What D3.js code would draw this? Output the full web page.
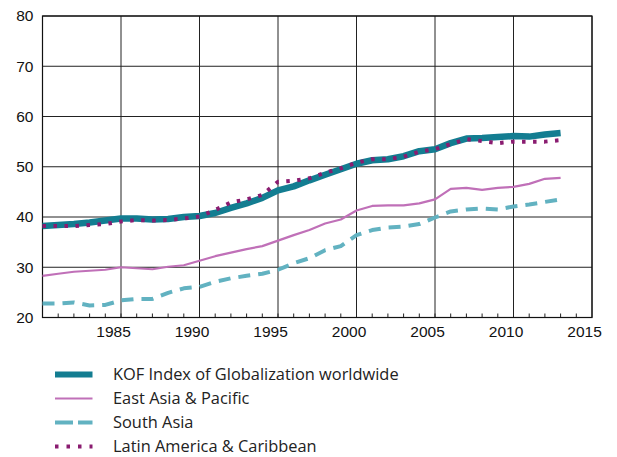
<!DOCTYPE html>
<html>
<head>
<meta charset="utf-8">
<script src="https://cdn.jsdelivr.net/npm/d3@7"></script>
<style>
  body { margin: 0; background: #fff; }
  svg { display: block; }
</style>
</head>
<body>
<svg id="main-svg" width="617" height="457"></svg>
<script>
// yearly values, 1980 - 2013
var years = d3.range(1980, 2014);

var kofWorld = [38.2, 38.4, 38.6, 38.9, 39.3, 39.7, 39.7, 39.5, 39.6, 40.0,
                40.2, 40.8, 41.8, 42.7, 43.8, 45.3, 46.1, 47.3, 48.4, 49.5,
                50.6, 51.3, 51.5, 52.1, 53.1, 53.5, 54.7, 55.6, 55.7, 55.9,
                56.1, 56.0, 56.4, 56.7];
var eastAsia = [28.3, 28.7, 29.1, 29.3, 29.5, 30.0, 29.8, 29.6, 30.1, 30.4,
                31.3, 32.2, 32.9, 33.6, 34.2, 35.3, 36.4, 37.4, 38.7, 39.5,
                41.3, 42.2, 42.3, 42.3, 42.7, 43.5, 45.6, 45.8, 45.4, 45.8,
                46.0, 46.6, 47.6, 47.8];
var southAsia = [22.8, 22.8, 23.0, 22.4, 22.5, 23.4, 23.7, 23.7, 24.9, 25.8,
                 26.1, 27.1, 27.8, 28.3, 28.7, 29.5, 30.8, 31.8, 33.4, 34.2,
                 36.4, 37.4, 37.9, 38.1, 38.6, 39.9, 41.1, 41.5, 41.7, 41.5,
                 42.1, 42.5, 43.0, 43.5];
var latinAm = [38.2, 38.2, 38.2, 38.4, 38.6, 39.1, 39.4, 39.3, 39.4, 39.7,
               40.1, 41.4, 42.9, 43.5, 44.4, 47.0, 47.2, 47.7, 48.8, 49.7,
               50.8, 51.5, 51.5, 52.0, 53.0, 53.5, 54.5, 55.5, 55.1, 54.7,
               55.0, 55.0, 55.0, 55.3];

var seriesNames = ["KOF Index of Globalization worldwide", "East Asia & Pacific", "South Asia", "Latin America & Caribbean"];
var xTicks = [1985, 1990, 1995, 2000, 2005, 2010, 2015];
var yTicks = [20, 30, 40, 50, 60, 70, 80];

var styles = [
  {values: kofWorld, color: "#137d91", width: 6.5, dash: null, legDash: null},
  {values: eastAsia, color: "#c070b8", width: 2.2, dash: null, legDash: null},
  {values: southAsia, color: "#62b2c1", width: 4, dash: "12,8", legDash: "18,5"},
  {values: latinAm, color: "#8a1c70", width: 4, dash: "3.5,7.5", legDash: "3.5,8"}
];

var svg = d3.select("#main-svg");
var plot = {left: 42.5, right: 592, top: 16, bottom: 317.5};

var x = d3.scaleLinear().domain([1980, 2015]).range([plot.left, plot.right]);
var y = d3.scaleLinear().domain([20, 80]).range([plot.bottom, plot.top]);

var grid = svg.append("g").attr("class", "grid");
grid.selectAll("line.h").data(yTicks).enter().append("line")
    .attr("x1", plot.left).attr("x2", plot.right)
    .attr("y1", function(d){ return y(d); }).attr("y2", function(d){ return y(d); })
    .style("stroke", "#222").style("stroke-width", 1);
grid.selectAll("line.v").data(xTicks).enter().append("line")
    .attr("y1", plot.top).attr("y2", plot.bottom)
    .attr("x1", function(d){ return x(d); }).attr("x2", function(d){ return x(d); })
    .style("stroke", "#222").style("stroke-width", 1);

// yearly minor ticks on the bottom axis
grid.selectAll("line.m").data(d3.range(1981, 2015)).enter().append("line")
    .attr("y1", plot.bottom - 4).attr("y2", plot.bottom)
    .attr("x1", function(d){ return x(d); }).attr("x2", function(d){ return x(d); })
    .style("stroke", "#222").style("stroke-width", 1);

svg.append("rect").attr("x", plot.left).attr("y", plot.top)
   .attr("width", plot.right - plot.left).attr("height", plot.bottom - plot.top)
   .style("fill", "none").style("stroke", "#111").style("stroke-width", 1.2);

// axes labels
var yAxis = d3.axisLeft(y).tickValues(yTicks).tickSize(0).tickPadding(9);
var gy = svg.append("g").attr("transform", "translate(" + plot.left + ",0)").call(yAxis);
var xAxis = d3.axisBottom(x).tickValues(xTicks).tickSize(0).tickPadding(8).tickFormat(d3.format("d"));
var gx = svg.append("g").attr("transform", "translate(0," + plot.bottom + ")").call(xAxis);
[gx, gy].forEach(function(g){
  g.select(".domain").remove();
  g.selectAll("text").style("font-family", "'Liberation Sans', Arial, sans-serif")
   .style("font-size", "15.5px").style("fill", "#111");
});
// year labels sit a little left of their gridline in the original
gx.selectAll("text").attr("dx", -8);

var line = d3.line()
    .x(function(d, i){ return x(years[i]); })
    .y(function(d){ return y(d); });

// pink and dashed first, then the thick one, dotted on top
var order = [1, 2, 0, 3];
order.forEach(function(k){
  var s = styles[k];
  svg.append("path").datum(s.values)
     .attr("d", line)
     .style("fill", "none")
     .style("stroke", s.color)
     .style("stroke-width", s.width)
     .style("stroke-dasharray", s.dash)
     .style("stroke-linejoin", "round");
});

// legend
var legend = svg.append("g").attr("class", "legend");
var legRows = legend.selectAll("g").data(styles).enter().append("g")
    .attr("transform", function(d, i){ return "translate(0," + (374.5 + i * 24) + ")"; });
legRows.append("line")
    .attr("x1", 55).attr("x2", 92.5).attr("y1", 0).attr("y2", 0)
    .style("stroke", function(d){ return d.color; })
    .style("stroke-width", function(d, i){ return i === 0 ? 6 : (i === 1 ? 2.2 : 4); })
    .style("stroke-dasharray", function(d){ return d.legDash; });
legRows.append("text")
    .attr("x", 113).attr("y", 0).attr("dy", "0.36em")
    .style("font-family", "'Open Sans', sans-serif")
    .style("font-size", "16.4px").style("fill", "#222")
    .text(function(d, i){ return seriesNames[i]; });
</script>
</body>
</html>
